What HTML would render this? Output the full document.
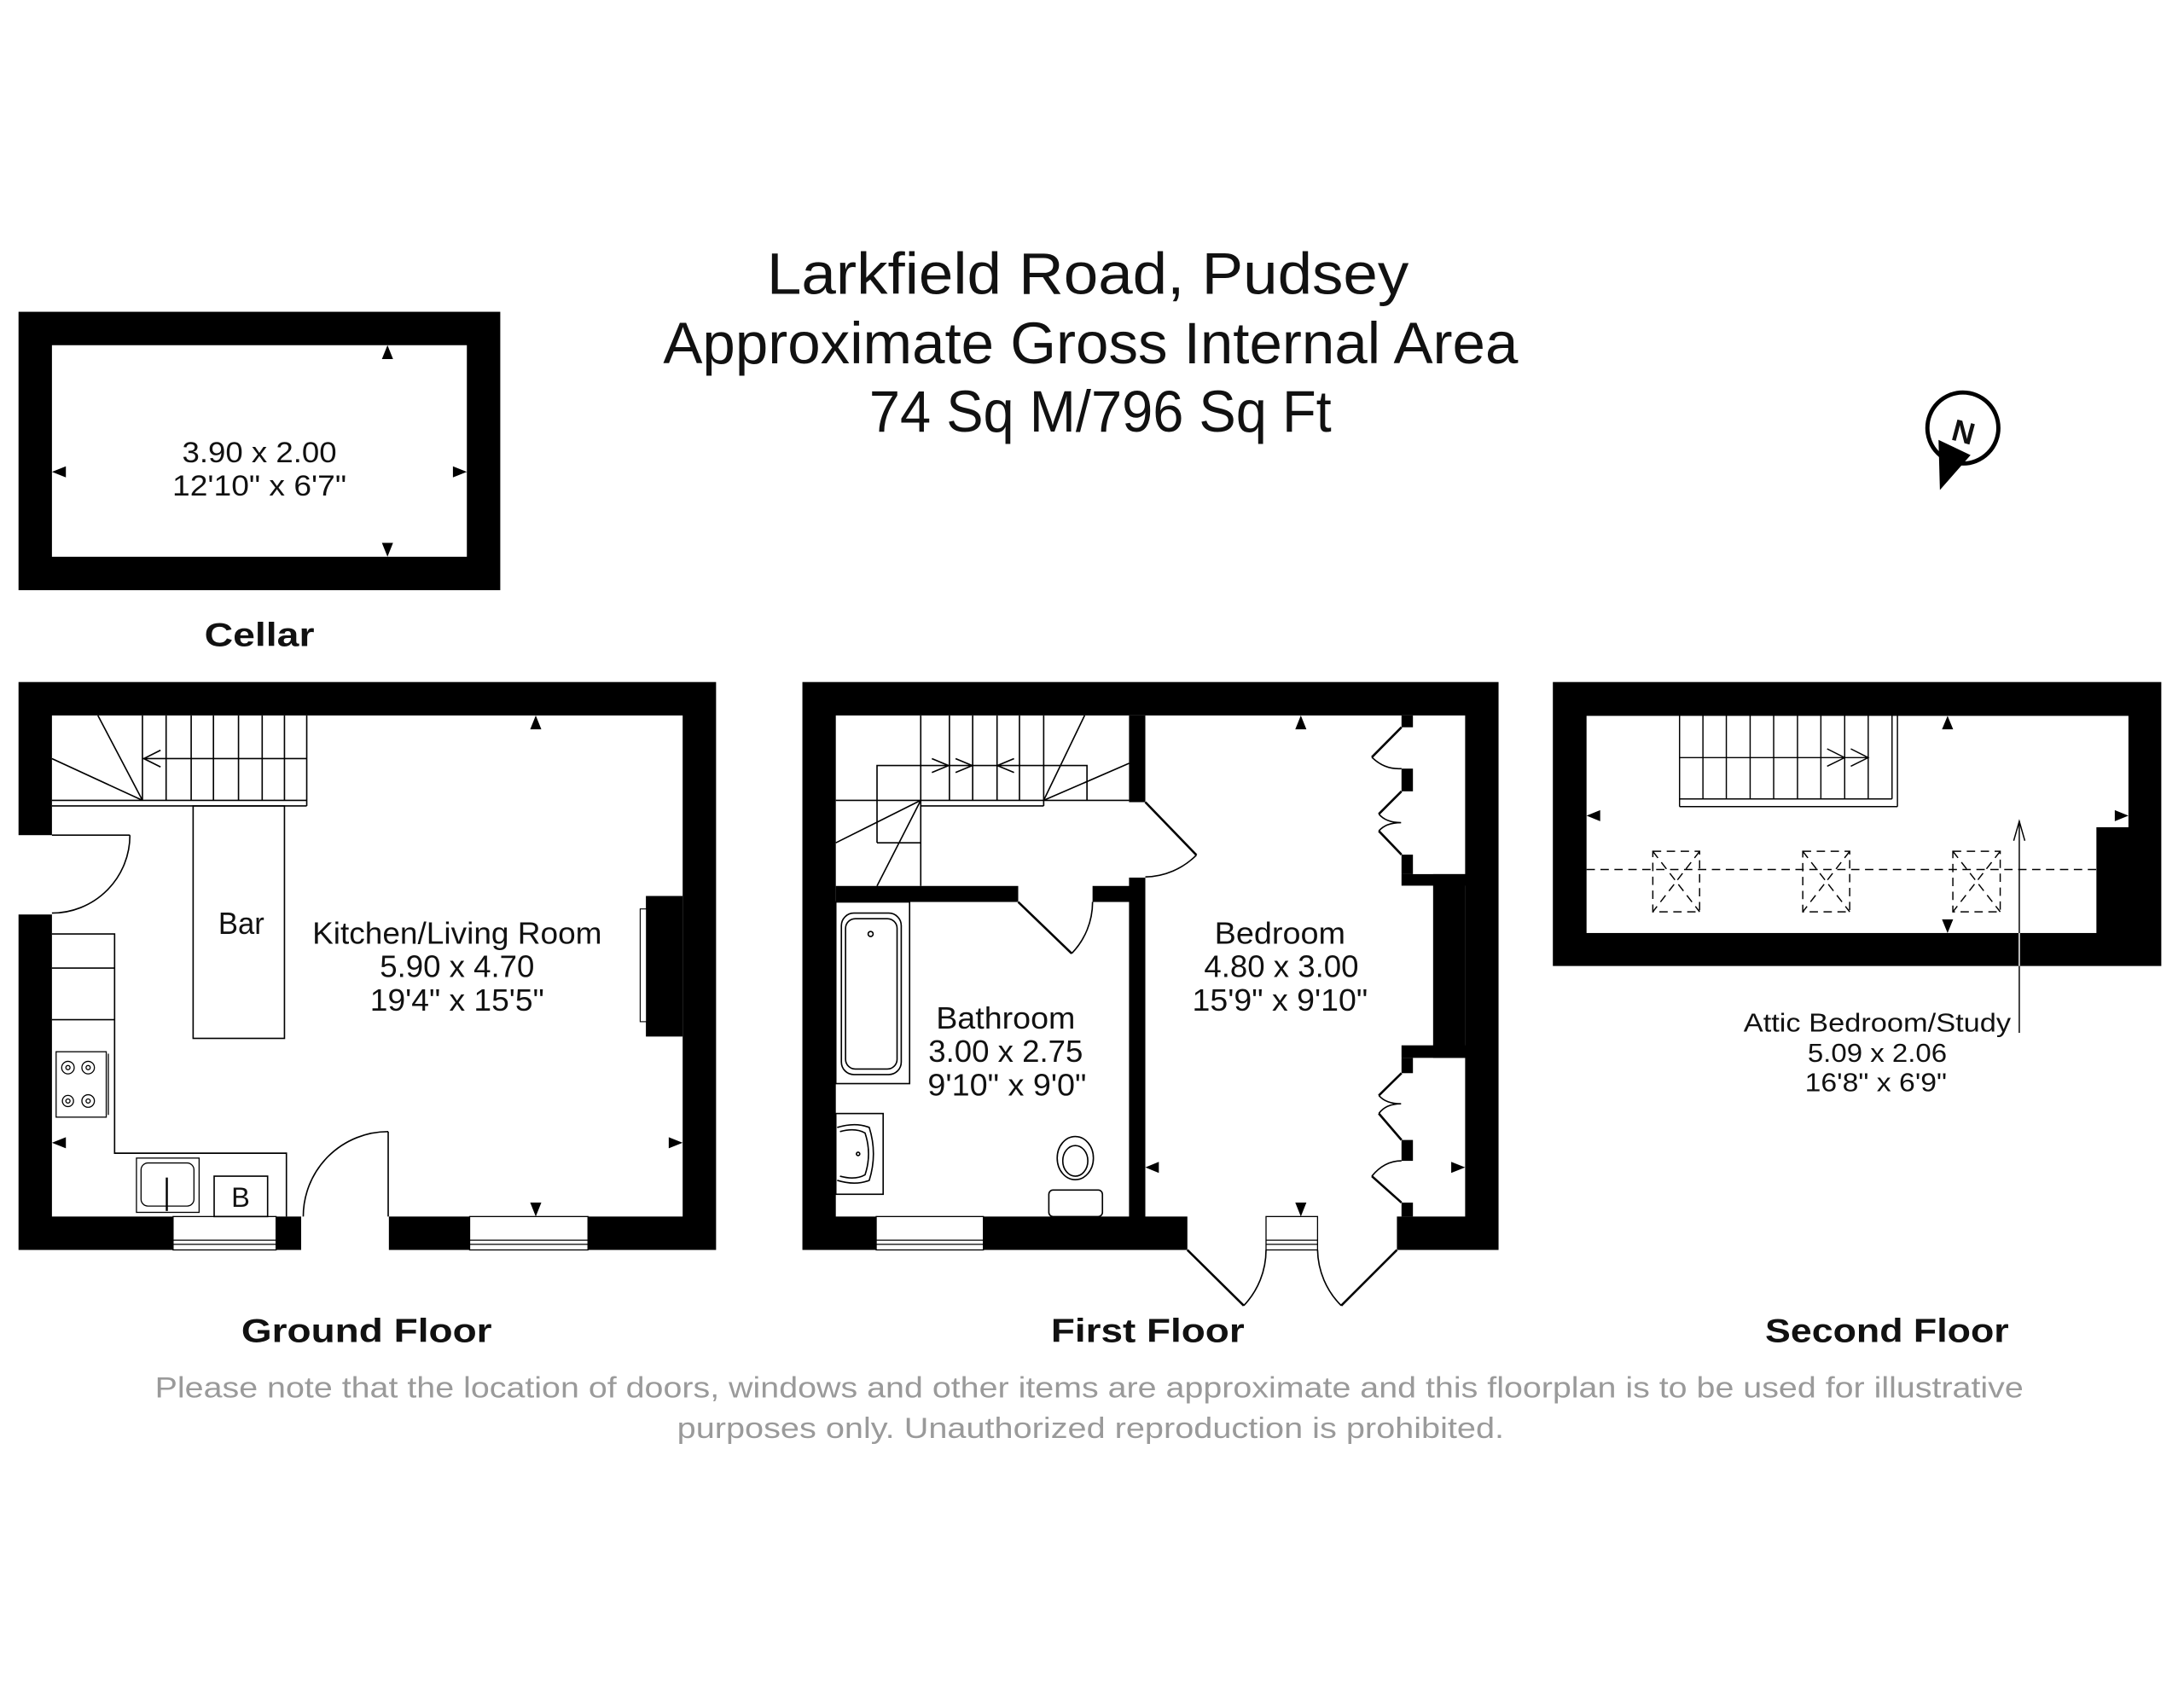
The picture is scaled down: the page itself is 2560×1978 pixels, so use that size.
<!DOCTYPE html>
<html><head><meta charset="utf-8"><style>
html,body{margin:0;padding:0;background:#fff;}
svg{display:block;}
text{font-family:"Liberation Sans",sans-serif;fill:#111;}
.b{font-weight:bold;}
</style></head><body>
<svg width="2560" height="1978" viewBox="0 0 1568 1212" xmlns="http://www.w3.org/2000/svg">
<rect width="1568" height="1212" fill="#fff"/>
<!-- Title -->
<text x="781" y="211" font-size="42" text-anchor="middle" textLength="461" lengthAdjust="spacingAndGlyphs">Larkfield Road, Pudsey</text>
<text x="783" y="261" font-size="42" text-anchor="middle" textLength="614" lengthAdjust="spacingAndGlyphs">Approximate Gross Internal Area</text>
<text x="790" y="310" font-size="42" text-anchor="middle" textLength="332" lengthAdjust="spacingAndGlyphs">74 Sq M/796 Sq Ft</text>

<!-- Compass -->
<circle cx="1409.5" cy="307.5" r="25.5" fill="none" stroke="#000" stroke-width="3"/>
<polygon points="1392,316 1415,327 1393,352" fill="#000"/>
<text x="1410" y="318" font-size="22" class="b" text-anchor="middle" transform="rotate(15 1410 310)">N</text>

<!-- CELLAR -->
<rect x="13" y="224" width="346" height="200" fill="#000"/>
<rect x="37" y="248" width="298" height="152" fill="#fff"/>
<polygon points="278,248 274,258 282,258" fill="#000"/>
<polygon points="278,400 274,390 282,390" fill="#000"/>
<polygon points="37,339 47,335 47,343" fill="#000"/>
<polygon points="335,339 325,335 325,343" fill="#000"/>
<text x="186" y="332" font-size="21" text-anchor="middle" textLength="111" lengthAdjust="spacingAndGlyphs">3.90 x 2.00</text>
<text x="186" y="356" font-size="21" text-anchor="middle" textLength="125" lengthAdjust="spacingAndGlyphs">12'10" x 6'7"</text>
<text x="186" y="464" font-size="24" class="b" text-anchor="middle" textLength="79" lengthAdjust="spacingAndGlyphs">Cellar</text>

<!-- GROUND FLOOR -->
<rect x="13" y="490" width="501" height="408" fill="#000"/>
<rect x="37" y="514" width="453" height="360" fill="#fff"/>
<rect x="12" y="600" width="26" height="57" fill="#fff"/>
<rect x="216" y="873" width="63" height="26" fill="#fff"/>
<g fill="#fff" stroke="#000" stroke-width="0.8">
<rect x="124" y="874" width="74" height="24"/>
<rect x="337" y="874" width="85" height="24"/>
</g>
<g stroke="#000" stroke-width="0.8">
<line x1="124" y1="891" x2="198" y2="891"/><line x1="124" y1="894" x2="198" y2="894"/>
<line x1="337" y1="891" x2="422" y2="891"/><line x1="337" y1="894" x2="422" y2="894"/>
</g>
<!-- fireplace -->
<rect x="463.6" y="643.7" width="26.4" height="101" fill="#000"/>
<rect x="459.5" y="653" width="4.5" height="81" fill="#fff" stroke="#000" stroke-width="0.7"/>
<g fill="none" stroke="#000" stroke-width="1">
<!-- doors -->
<line x1="37" y1="600" x2="93" y2="600"/>
<path d="M93,600 A56,56 0 0 1 37,656"/>
<line x1="278.5" y1="874" x2="278.5" y2="813"/>
<path d="M278.5,813 A61,61 0 0 0 217.5,874"/>
<!-- stairs -->
<line x1="37" y1="575" x2="220" y2="575"/>
<line x1="37" y1="579" x2="220" y2="579"/>
<line x1="220" y1="514" x2="220" y2="579"/>
<line x1="102" y1="514" x2="102" y2="575"/>
<line x1="119" y1="514" x2="119" y2="575"/>
<line x1="137" y1="514" x2="137" y2="575"/>
<line x1="153" y1="514" x2="153" y2="575"/>
<line x1="171" y1="514" x2="171" y2="575"/>
<line x1="188" y1="514" x2="188" y2="575"/>
<line x1="204" y1="514" x2="204" y2="575"/>
<line x1="102" y1="545" x2="220" y2="545"/>
<line x1="70" y1="514" x2="102" y2="575"/>
<line x1="37" y1="545" x2="102" y2="575"/>
<polyline points="115,539 103,545 115,551"/>
<!-- bar -->
<rect x="138.4" y="579" width="65.6" height="167"/>
<!-- counters -->
<polyline points="37,671 82,671 82,828.5 205.4,828.5 205.4,874"/>
<line x1="37" y1="695.5" x2="82" y2="695.5"/>
<line x1="37" y1="732.6" x2="82" y2="732.6"/>
<!-- hob -->
<rect x="40" y="755.6" width="36" height="47" stroke-width="0.8"/>
<line x1="77.5" y1="757" x2="77.5" y2="801" stroke-width="0.8"/>
<circle cx="48.5" cy="767" r="4.5" stroke-width="0.8"/><circle cx="48.5" cy="767" r="1.5" stroke-width="0.8"/>
<circle cx="63" cy="767" r="4.5" stroke-width="0.8"/><circle cx="63" cy="767" r="1.5" stroke-width="0.8"/>
<circle cx="48.5" cy="791" r="4" stroke-width="0.8"/><circle cx="48.5" cy="791" r="1.5" stroke-width="0.8"/>
<circle cx="63" cy="791" r="4.5" stroke-width="0.8"/><circle cx="63" cy="791" r="1.5" stroke-width="0.8"/>
<!-- sink -->
<rect x="97.7" y="832" width="45" height="39" stroke-width="0.8"/>
<rect x="101" y="835.5" width="38" height="31" rx="5" stroke-width="0.8"/>
<line x1="119.5" y1="846" x2="119.5" y2="870" stroke-width="1.5"/>
<rect x="153.5" y="845" width="38.4" height="29"/>
</g>
<polygon points="384.5,514 380.5,524 388.5,524" fill="#000"/>
<polygon points="384.5,874 380.5,864 388.5,864" fill="#000"/>
<polygon points="37,821 47,817 47,825" fill="#000"/>
<polygon points="490,821 480,817 480,825" fill="#000"/>
<text x="173" y="671" font-size="22" text-anchor="middle" textLength="33" lengthAdjust="spacingAndGlyphs">Bar</text>
<text x="328" y="678" font-size="22" text-anchor="middle" textLength="208" lengthAdjust="spacingAndGlyphs">Kitchen/Living Room</text>
<text x="328" y="702" font-size="22" text-anchor="middle" textLength="111" lengthAdjust="spacingAndGlyphs">5.90 x 4.70</text>
<text x="328" y="726" font-size="22" text-anchor="middle" textLength="125" lengthAdjust="spacingAndGlyphs">19'4" x 15'5"</text>
<text x="172.5" y="867" font-size="20" text-anchor="middle">B</text>
<text x="263" y="964" font-size="24" class="b" text-anchor="middle" textLength="180" lengthAdjust="spacingAndGlyphs">Ground Floor</text>

<!-- FIRST FLOOR -->
<rect x="576" y="490" width="500" height="408" fill="#000"/>
<rect x="600" y="514" width="452" height="360" fill="#fff"/>
<rect x="810.6" y="514" width="11.7" height="62.3" fill="#000"/>
<rect x="810.6" y="630.5" width="11.7" height="244" fill="#000"/>
<rect x="600" y="636.5" width="131" height="11.5" fill="#000"/>
<rect x="784.4" y="636.5" width="27" height="11.5" fill="#000"/>
<rect x="852.5" y="873" width="150.5" height="26" fill="#fff"/>
<rect x="1029" y="628" width="23" height="132" fill="#000"/>
<rect x="1006.3" y="628" width="46" height="8.3" fill="#000"/>
<rect x="1006.3" y="751" width="46" height="9" fill="#000"/>
<g fill="#000">
<rect x="1006.3" y="514" width="8.2" height="8.5"/>
<rect x="1006.3" y="552.2" width="8.2" height="16.3"/>
<rect x="1006.3" y="614" width="8.2" height="14"/>
<rect x="1006.3" y="760" width="8.2" height="11"/>
<rect x="1006.3" y="819" width="8.2" height="15"/>
<rect x="1006.3" y="864" width="8.2" height="10"/>
</g>
<g fill="#fff" stroke="#000" stroke-width="0.8">
<rect x="629" y="874" width="77" height="24"/>
<rect x="909" y="874" width="37" height="24"/>
</g>
<g stroke="#000" stroke-width="0.8">
<line x1="629" y1="891" x2="706" y2="891"/><line x1="629" y1="894" x2="706" y2="894"/>
<line x1="909" y1="891" x2="946" y2="891"/><line x1="909" y1="894" x2="946" y2="894"/>
</g>
<g fill="none" stroke="#000" stroke-width="1">
<!-- stairs -->
<line x1="600" y1="575" x2="810.6" y2="575"/>
<line x1="661" y1="579" x2="749.3" y2="579"/>
<line x1="661" y1="514" x2="661" y2="636.5"/>
<line x1="681.6" y1="514" x2="681.6" y2="575"/>
<line x1="698.3" y1="514" x2="698.3" y2="575"/>
<line x1="715.8" y1="514" x2="715.8" y2="575"/>
<line x1="731.9" y1="514" x2="731.9" y2="575"/>
<line x1="749.3" y1="514" x2="749.3" y2="579"/>
<polyline points="629.6,605.5 629.6,550 780.4,550 780.4,575"/>
<line x1="629.6" y1="605.5" x2="661" y2="605.5"/>
<line x1="778.7" y1="514" x2="749.3" y2="575"/>
<line x1="810.6" y1="548.4" x2="749.3" y2="575"/>
<line x1="661" y1="575" x2="600" y2="605.5"/>
<line x1="661" y1="575" x2="629.6" y2="636.5"/>
<polyline points="669,545 681,550 669,555"/>
<polyline points="686,545 698,550 686,555"/>
<polyline points="728,545 716,550 728,555"/>
<!-- doors -->
<line x1="822.3" y1="576.3" x2="859" y2="614.3" stroke-width="1.6"/>
<path d="M859,614.3 A53,53 0 0 1 822.3,630"/>
<line x1="731" y1="648" x2="769.4" y2="685" stroke-width="1.6"/>
<path d="M769.4,685 A53,53 0 0 0 784.4,648"/>
<line x1="852.5" y1="898" x2="893" y2="938" stroke-width="1.6"/>
<path d="M893,938 A58,58 0 0 0 909,898"/>
<line x1="1003" y1="898" x2="963" y2="938" stroke-width="1.6"/>
<path d="M963,938 A58,58 0 0 1 946,898"/>
<!-- wardrobe doors -->
<polyline points="1006.3,522.5 985,544" stroke-width="1.6"/>
<path d="M985,544 Q994,553 1006.3,552.2"/>
<polyline points="1006.3,568.5 990,584.8" stroke-width="1.6"/>
<path d="M990,584.8 Q995,591 1006,591 Q995,591 990,597"/>
<polyline points="990,597 1006.3,614" stroke-width="1.6"/>
<polyline points="1006.3,771 990,787" stroke-width="1.6"/>
<path d="M990,787 Q995,793 1006,793 Q995,793 990,800"/>
<polyline points="990,800 1006.3,819" stroke-width="1.6"/>
<path d="M1006.3,834 Q994,834 985,845"/>
<polyline points="985,845 1006.3,864" stroke-width="1.6"/>
<!-- bath -->
<rect x="600" y="648" width="53" height="130.5"/>
<rect x="604" y="656" width="43" height="116" rx="9"/>
<rect x="607" y="660" width="37" height="108" rx="7"/>
<circle cx="625" cy="671" r="1.8"/>
<!-- basin -->
<rect x="600" y="800" width="34" height="58"/>
<path d="M601,810 Q614,806 624,810 Q630,829 624,848 Q614,852 601,848"/>
<path d="M603,813 Q614,810 621,814 Q626,829 621,844 Q614,848 603,845"/>
<circle cx="616" cy="829" r="1.2"/>
<!-- wc -->
<ellipse cx="772" cy="832" rx="13" ry="15.5"/>
<ellipse cx="772" cy="834" rx="9" ry="11"/>
<rect x="753" y="855" width="38.5" height="19" rx="3"/>
</g>
<polygon points="934,514 930,524 938,524" fill="#000"/>
<polygon points="934,874 930,864 938,864" fill="#000"/>
<polygon points="822.3,838.7 832,834.7 832,842.7" fill="#000"/>
<polygon points="1052,838.7 1042,834.7 1042,842.7" fill="#000"/>
<text x="919" y="678" font-size="22" text-anchor="middle" textLength="94" lengthAdjust="spacingAndGlyphs">Bedroom</text>
<text x="920" y="702" font-size="22" text-anchor="middle" textLength="111" lengthAdjust="spacingAndGlyphs">4.80 x 3.00</text>
<text x="919" y="726" font-size="22" text-anchor="middle" textLength="126" lengthAdjust="spacingAndGlyphs">15'9" x 9'10"</text>
<text x="722" y="739" font-size="22" text-anchor="middle" textLength="100" lengthAdjust="spacingAndGlyphs">Bathroom</text>
<text x="722" y="763" font-size="22" text-anchor="middle" textLength="111" lengthAdjust="spacingAndGlyphs">3.00 x 2.75</text>
<text x="723" y="787" font-size="22" text-anchor="middle" textLength="114" lengthAdjust="spacingAndGlyphs">9'10" x 9'0"</text>
<text x="824" y="964" font-size="24" class="b" text-anchor="middle" textLength="139" lengthAdjust="spacingAndGlyphs">First Floor</text>

<!-- SECOND FLOOR -->
<rect x="1115" y="490" width="437" height="204" fill="#000"/>
<rect x="1139.2" y="514.3" width="389.2" height="156" fill="#fff"/>
<rect x="1505.4" y="594.3" width="23.5" height="77" fill="#000"/>
<g fill="none" stroke="#000" stroke-width="0.9">
<line x1="1206" y1="514" x2="1206" y2="579.5"/>
<line x1="1206" y1="574" x2="1358.6" y2="574"/>
<line x1="1206" y1="579.5" x2="1362.5" y2="579.5"/>
<line x1="1358.6" y1="514" x2="1358.6" y2="574"/>
<line x1="1362.5" y1="514" x2="1362.5" y2="579.5"/>
<line x1="1222.8" y1="514" x2="1222.8" y2="574"/>
<line x1="1239.6" y1="514" x2="1239.6" y2="574"/>
<line x1="1256.7" y1="514" x2="1256.7" y2="574"/>
<line x1="1273.6" y1="514" x2="1273.6" y2="574"/>
<line x1="1290.7" y1="514" x2="1290.7" y2="574"/>
<line x1="1307.5" y1="514" x2="1307.5" y2="574"/>
<line x1="1324.6" y1="514" x2="1324.6" y2="574"/>
<line x1="1341.5" y1="514" x2="1341.5" y2="574"/>
<line x1="1206" y1="544.3" x2="1341.5" y2="544.3"/>
<polyline points="1312,538 1324.6,544.3 1312,550.5"/>
<polyline points="1329,538 1341.5,544.3 1329,550.5"/>
<g stroke-dasharray="6,4">
<line x1="1139.2" y1="624.7" x2="1505.4" y2="624.7"/>
<rect x="1186.8" y="611.6" width="33.6" height="43.5"/>
<rect x="1294.5" y="611.6" width="33.7" height="43.5"/>
<rect x="1402.3" y="611.6" width="34" height="43.5"/>
<line x1="1186.8" y1="611.6" x2="1220.4" y2="655.1"/><line x1="1220.4" y1="611.6" x2="1186.8" y2="655.1"/>
<line x1="1294.5" y1="611.6" x2="1328.2" y2="655.1"/><line x1="1328.2" y1="611.6" x2="1294.5" y2="655.1"/>
<line x1="1402.3" y1="611.6" x2="1436.3" y2="655.1"/><line x1="1436.3" y1="611.6" x2="1402.3" y2="655.1"/>
</g>
</g>
<line x1="1450" y1="590" x2="1450" y2="742" stroke="#000" stroke-width="0.9"/>
<line x1="1450" y1="670.3" x2="1450" y2="694" stroke="#fff" stroke-width="0.9"/>
<polyline points="1446,604 1450,590 1454,604" fill="none" stroke="#000" stroke-width="0.9"/>
<polygon points="1398.5,514.3 1394.5,524 1402.5,524" fill="#000"/>
<polygon points="1398.5,670.3 1394.5,660.5 1402.5,660.5" fill="#000"/>
<polygon points="1139.2,586 1149,582 1149,590" fill="#000"/>
<polygon points="1528.4,586 1518.6,582 1518.6,590" fill="#000"/>
<text x="1348" y="741" font-size="19" text-anchor="middle" textLength="192" lengthAdjust="spacingAndGlyphs">Attic Bedroom/Study</text>
<text x="1348" y="763" font-size="19" text-anchor="middle" textLength="100" lengthAdjust="spacingAndGlyphs">5.09 x 2.06</text>
<text x="1347" y="784" font-size="19" text-anchor="middle" textLength="102" lengthAdjust="spacingAndGlyphs">16'8" x 6'9"</text>
<text x="1355" y="964" font-size="24" class="b" text-anchor="middle" textLength="175" lengthAdjust="spacingAndGlyphs">Second Floor</text>

<!-- Disclaimer -->
<text x="782" y="1004" font-size="21" text-anchor="middle" style="fill:#9a9a9a" textLength="1342" lengthAdjust="spacingAndGlyphs">Please note that the location of doors, windows and other items are approximate and this floorplan is to be used for illustrative</text>
<text x="783" y="1033" font-size="21" text-anchor="middle" style="fill:#9a9a9a" textLength="594" lengthAdjust="spacingAndGlyphs">purposes only. Unauthorized reproduction is prohibited.</text>
</svg>
</body></html>
